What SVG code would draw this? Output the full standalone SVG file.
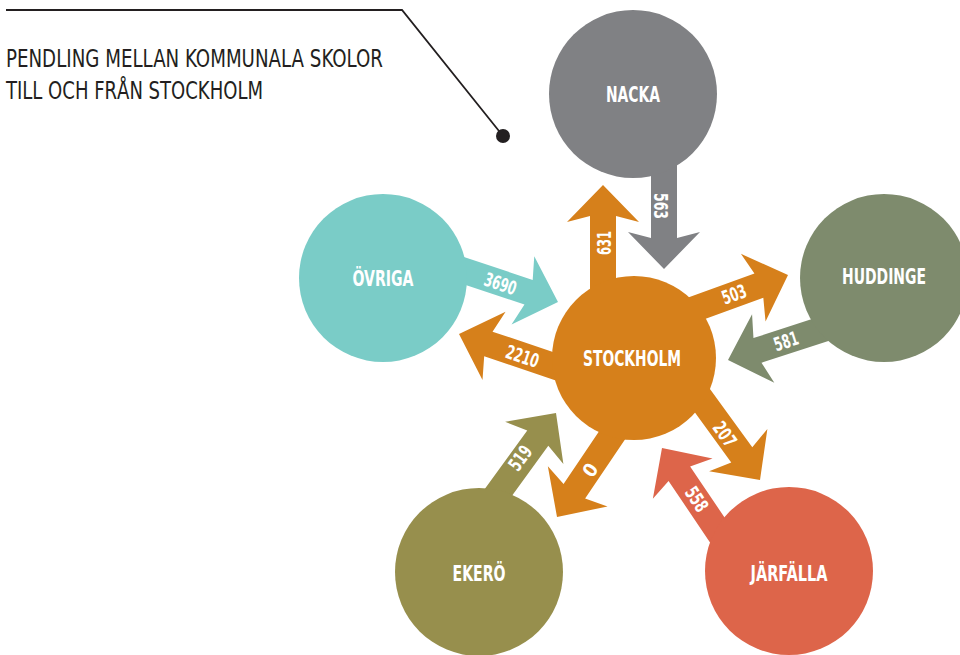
<svg xmlns="http://www.w3.org/2000/svg" width="960" height="655" viewBox="0 0 960 655">
<style>
.title{font-family:"Liberation Sans Narrow","DejaVu Sans Condensed","Liberation Sans",sans-serif;font-stretch:condensed;font-size:25px;fill:#231F20}
.node{font-family:"Liberation Sans Narrow","DejaVu Sans Condensed","Liberation Sans",sans-serif;font-stretch:condensed;font-weight:bold;font-size:21px;fill:#fff;text-anchor:middle}
.lbl{font-family:"Liberation Sans Narrow","DejaVu Sans Condensed","Liberation Sans",sans-serif;font-stretch:condensed;font-weight:bold;font-size:19px;fill:#fff;text-anchor:middle}
.c-sth{fill:#D6801B}.c-nac{fill:#808184}.c-hud{fill:#7E8B6D}.c-ovr{fill:#7ACCC7}.c-eke{fill:#978F4D}.c-jar{fill:#DD654A}
</style>
<defs>
<path id="arr" d="M0,0 L-37,-36 L-31,-13 L-150,-13 L-150,13 L-31,13 L-37,36 Z"/>
</defs>
<g id="title">
<polyline points="6,10 402,10 503,136" fill="none" stroke="#231F20" stroke-width="1.8"/>
<circle cx="503" cy="136" r="7" fill="#231F20"/>
<text class="title" x="6" y="67" textLength="377" lengthAdjust="spacingAndGlyphs">PENDLING MELLAN KOMMUNALA SKOLOR</text>
<text class="title" x="6" y="99" textLength="257" lengthAdjust="spacingAndGlyphs">TILL OCH FRÅN STOCKHOLM</text>
</g>
<g id="connectors">
<use href="#arr" class="c-sth" transform="translate(603,185) rotate(-90)"/>
<use href="#arr" class="c-nac" transform="translate(664,269) rotate(90)"/>
<use href="#arr" class="c-ovr" transform="translate(558,302) rotate(18.4)"/>
<use href="#arr" class="c-sth" transform="translate(459,334) rotate(198.7)"/>
<use href="#arr" class="c-sth" transform="translate(788,275) rotate(-20)"/>
<use href="#arr" class="c-hud" transform="translate(728,360) rotate(162)"/>
<use href="#arr" class="c-eke" transform="translate(556,413) rotate(-54)"/>
<use href="#arr" class="c-sth" transform="translate(557,517) rotate(124)"/>
<use href="#arr" class="c-sth" transform="translate(760,480) rotate(54)"/>
<use href="#arr" class="c-jar" transform="translate(662,448) rotate(236)"/>
<text class="lbl" transform="translate(604,243) rotate(-90)" y="7" textLength="24" lengthAdjust="spacingAndGlyphs">631</text>
<text class="lbl" transform="translate(661,206) rotate(90)" y="7" textLength="26" lengthAdjust="spacingAndGlyphs">563</text>
<text class="lbl" transform="translate(500.5,283.5) rotate(18.4)" y="7" textLength="33" lengthAdjust="spacingAndGlyphs">3690</text>
<text class="lbl" transform="translate(522.5,356) rotate(18.7)" y="7" textLength="34" lengthAdjust="spacingAndGlyphs">2210</text>
<text class="lbl" transform="translate(734,294) rotate(-20)" y="7" textLength="25" lengthAdjust="spacingAndGlyphs">503</text>
<text class="lbl" transform="translate(786,341) rotate(-18)" y="7" textLength="25" lengthAdjust="spacingAndGlyphs">581</text>
<text class="lbl" transform="translate(520,458) rotate(-54)" y="7" textLength="26" lengthAdjust="spacingAndGlyphs">519</text>
<text class="lbl" transform="translate(590,470) rotate(-56)" y="7">0</text>
<text class="lbl" transform="translate(725,434) rotate(54)" y="7" textLength="26" lengthAdjust="spacingAndGlyphs">207</text>
<text class="lbl" transform="translate(697,499) rotate(56)" y="7" textLength="26" lengthAdjust="spacingAndGlyphs">558</text>
</g>
<g id="nacka">
<circle class="c-nac" cx="633" cy="94" r="84"/>
<text class="node" x="633" y="102" textLength="54" lengthAdjust="spacingAndGlyphs">NACKA</text>
</g>
<g id="stockholm">
<circle class="c-sth" cx="634" cy="358" r="82"/>
<text class="node" x="632" y="366" textLength="98" lengthAdjust="spacingAndGlyphs">STOCKHOLM</text>
</g>
<g id="huddinge">
<circle class="c-hud" cx="884" cy="278" r="84"/>
<text class="node" x="884" y="284" textLength="84" lengthAdjust="spacingAndGlyphs">HUDDINGE</text>
</g>
<g id="ovriga">
<circle class="c-ovr" cx="383" cy="278" r="84"/>
<text class="node" x="383" y="286" textLength="61" lengthAdjust="spacingAndGlyphs">ÖVRIGA</text>
</g>
<g id="ekero">
<circle class="c-eke" cx="479" cy="572" r="84"/>
<text class="node" x="479" y="581" textLength="53" lengthAdjust="spacingAndGlyphs">EKERÖ</text>
</g>
<g id="jarfalla">
<circle class="c-jar" cx="789" cy="571" r="84"/>
<text class="node" x="789" y="581" textLength="77" lengthAdjust="spacingAndGlyphs">JÄRFÄLLA</text>
</g>
</svg>
